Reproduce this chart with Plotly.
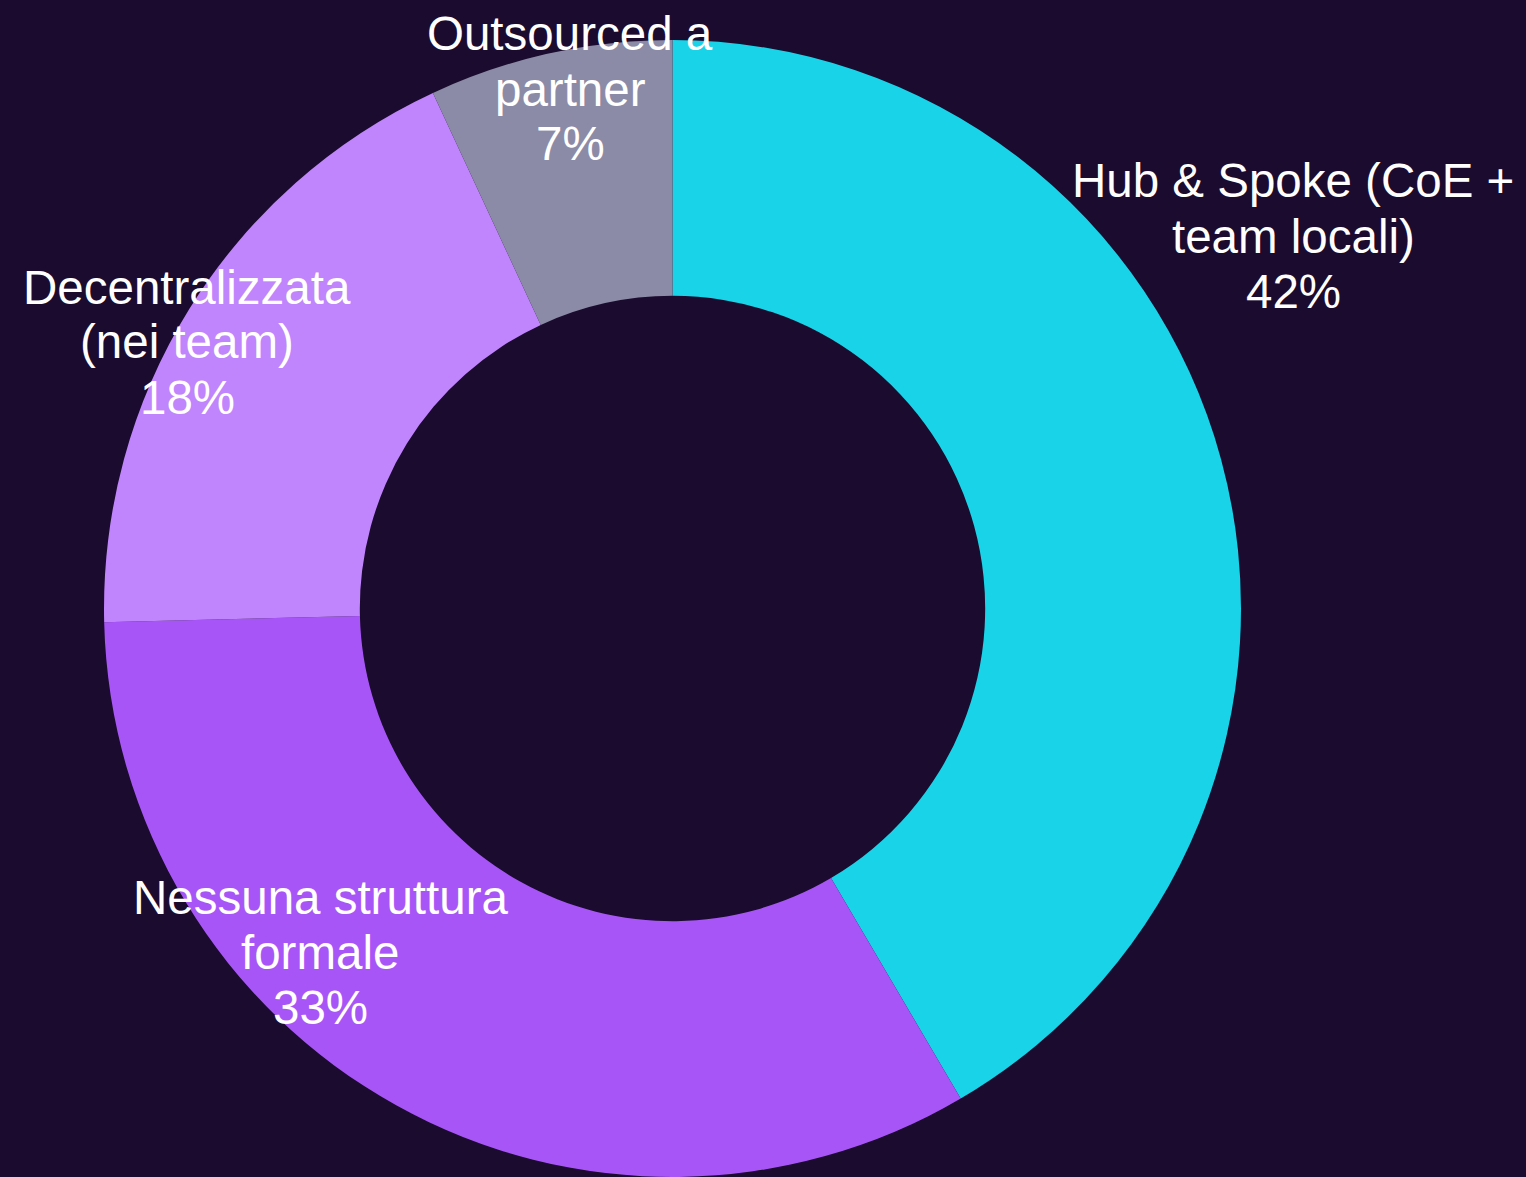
import plotly.graph_objects as go

categories = ["Hub & Spoke (CoE +<br>team locali)", "Nessuna struttura<br>formale",
              "Decentralizzata<br>(nei team)", "Outsourced a<br>partner"]
values = [54, 43, 24, 9]
colors = ["#19d3e8", "#a855f7", "#c084fc", "#8b8ba7"]

# layout constants (figure pixels): centre of the middle text line of each label
W, H = 1526, 1177
ML, MR, MT, MB = 0, 181, 40, 0
label_anchor = [(1293, 236), (320, 952), (187, 342), (570, 89)]
line_pitch = 55
font_size = 47.5
bg = "#1b0b2e"

fig = go.Figure(go.Pie(
    labels=categories, values=values, hole=0.55, sort=False, direction="clockwise",
    marker=dict(colors=colors, line=dict(width=0)),
    textinfo="none", hoverinfo="label+percent",
))

total = sum(values)
plot_w, plot_h = W - ML - MR, H - MT - MB
annotations = []
for cat, v, (ax, ay) in zip(categories, values, label_anchor):
    lines = cat.split("<br>") + [f"{round(100 * v / total)}%"]
    n = len(lines)
    for i, line in enumerate(lines):
        py = ay + (i - (n - 1) / 2) * line_pitch
        annotations.append(dict(
            text=line, showarrow=False, xref="paper", yref="paper",
            x=(ax - ML) / plot_w, y=1 - (py - MT) / plot_h,
            xanchor="center", yanchor="middle",
            font=dict(family="Liberation Sans, Arial, sans-serif", size=font_size, color="white"),
        ))

fig.update_layout(
    width=W, height=H, paper_bgcolor=bg, plot_bgcolor=bg,
    showlegend=False, margin=dict(l=ML, r=MR, t=MT, b=MB),
    annotations=annotations,
)
fig.write_html("out.html", config={"displayModeBar": False},
               post_script="document.body.style.margin='0';document.body.style.background='%s';" % bg)
